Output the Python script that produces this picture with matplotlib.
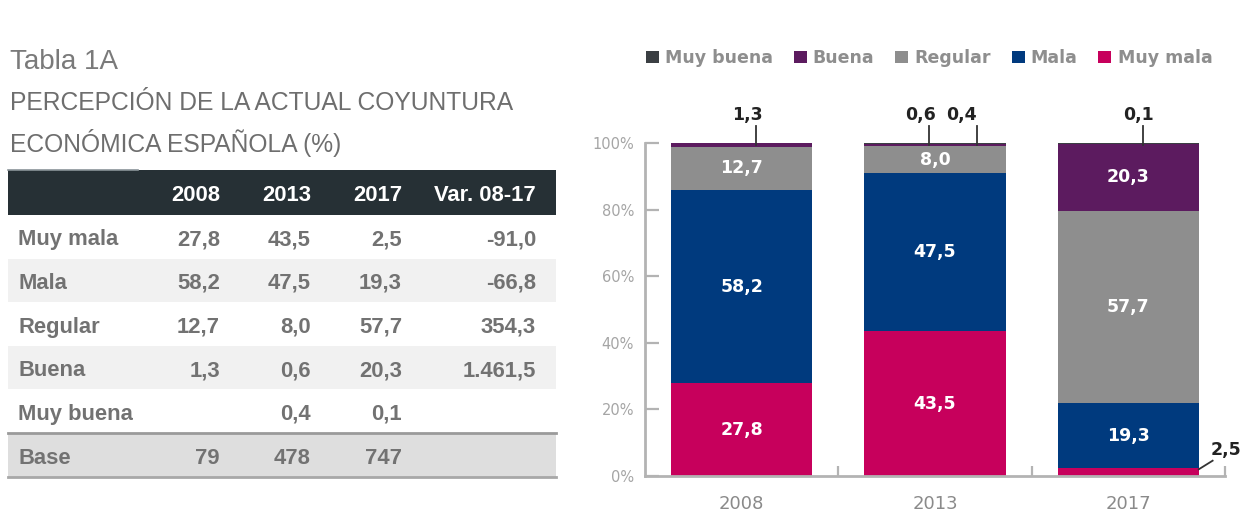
import matplotlib
matplotlib.use("Agg")
import matplotlib.pyplot as plt
from matplotlib.patches import Rectangle, Patch
from matplotlib import font_manager as fm
import numpy as np

# ---------------- data ----------------
categories = ["2008", "2013", "2017"]
series_names = ["Muy mala", "Mala", "Regular", "Buena", "Muy buena"]
muy_mala = [27.8, 43.5, 2.5]
mala = [58.2, 47.5, 19.3]
regular = [12.7, 8.0, 57.7]
buena = [1.3, 0.6, 20.3]
muy_buena = [0.0, 0.4, 0.1]

table_rows = ["Muy mala", "Mala", "Regular", "Buena", "Muy buena"]
table_2008 = [27.8, 58.2, 12.7, 1.3, None]
table_2013 = [43.5, 47.5, 8.0, 0.6, 0.4]
table_2017 = [2.5, 19.3, 57.7, 20.3, 0.1]
table_var = [-91.0, -66.8, 354.3, 1461.5, None]
base_counts = [79, 478, 747]
table_header = ["2008", "2013", "2017", "Var. 08-17"]

colors = {"Muy buena": "#3b3f43", "Buena": "#5c1b5f", "Regular": "#8e8e8e",
          "Mala": "#003a7e", "Muy mala": "#c7005c"}

# ---------------- fonts ----------------
avail = {f.name for f in fm.fontManager.ttflist}
sans = "Liberation Sans" if "Liberation Sans" in avail else "DejaVu Sans"
narrow = "Liberation Sans Narrow" if "Liberation Sans Narrow" in avail else sans
tsize = 19 if narrow != sans else 15.8


def fmt(v):
    if v is None:
        return ""
    s = f"{v:,.1f}"
    return s.replace(",", "X").replace(".", ",").replace("X", ".")


W, H = 1257, 525
fig = plt.figure(figsize=(W / 100, H / 100), dpi=100)

# ---------------- table (pixel coordinates) ----------------
at = fig.add_axes([0, 0, 1, 1])
at.set_xlim(0, W)
at.set_ylim(H, 0)
at.axis("off")

txt_gray = "#727272"
at.text(10, 62, "Tabla 1A", fontsize=20, color="#7a7a7a", family=sans,
        va="center", ha="left")
at.text(10, 103, "PERCEPCIÓN DE LA ACTUAL COYUNTURA", fontsize=17.7, color="#6e6e6e",
        family=sans, va="center", ha="left")
at.text(10, 143, "ECONÓMICA ESPAÑOLA (%)", fontsize=17.7, color="#6e6e6e",
        family=sans, va="center", ha="left")

x0, x1 = 8, 556
hdr_top, hdr_bot = 170, 215
btop, bbot = 433, 477
row_h = (btop - hdr_bot) / 5
at.add_patch(Rectangle((x0, hdr_top), x1 - x0, hdr_bot - hdr_top, color="#263035", lw=0))
at.plot([x0, 138], [hdr_top, hdr_top], color="#8a9499", lw=1.2)
col_right = [220, 311, 402, 536]
hdr_y = (hdr_top + hdr_bot) / 2
for xr, h in zip(col_right, table_header):
    at.text(xr, hdr_y + 3, h, color="white", fontsize=tsize, fontweight="bold",
            family=narrow, ha="right", va="center")

for i, lab in enumerate(table_rows):
    top = hdr_bot + i * row_h
    if i % 2 == 1:
        at.add_patch(Rectangle((x0, top), x1 - x0, row_h, color="#f1f1f1", lw=0))
    yc = top + row_h / 2 + 3
    at.text(18, yc, lab, color=txt_gray, fontsize=tsize, fontweight="bold",
            family=narrow, ha="left", va="center")
    vals = [table_2008[i], table_2013[i], table_2017[i], table_var[i]]
    for xr, v in zip(col_right, vals):
        at.text(xr, yc, fmt(v), color=txt_gray, fontsize=tsize, fontweight="bold",
                family=narrow, ha="right", va="center")

at.add_patch(Rectangle((x0, btop), x1 - x0, bbot - btop, color="#dedede", lw=0))
at.plot([x0, x1], [btop, btop], color="#9a9a9a", lw=2)
at.plot([x0, x1], [bbot, bbot], color="#a8a8a8", lw=2)
yc = (btop + bbot) / 2 + 3
at.text(18, yc, "Base", color=txt_gray, fontsize=tsize, fontweight="bold",
        family=narrow, ha="left", va="center")
for xr, v in zip(col_right, base_counts):
    at.text(xr, yc, str(v), color=txt_gray, fontsize=tsize, fontweight="bold",
            family=narrow, ha="right", va="center")

# ---------------- chart ----------------
ax = fig.add_axes([645 / W, (H - 476) / H, 580 / W, 333 / H])
x = np.arange(len(categories))
width = 0.73
stack = [("Muy mala", muy_mala), ("Mala", mala), ("Regular", regular),
         ("Buena", buena), ("Muy buena", muy_buena)]
bottom = np.zeros(len(categories))
for name, vals in stack:
    vals = np.array(vals, dtype=float)
    ax.bar(x, vals, width, bottom=bottom, color=colors[name], lw=0, zorder=2)
    for xi, b, v in zip(x, bottom, vals):
        if v > 5:
            ax.text(xi, b + v / 2, fmt(v), color="white", fontsize=12.5,
                    fontweight="bold", ha="center", va="center", zorder=3)
    bottom = bottom + vals

# callouts for small segments: (category index, series values, line dx, text dx)
callouts = [(0, buena, 0.075, 0.03), (1, buena, -0.03, -0.075),
            (1, muy_buena, 0.215, 0.135), (2, muy_buena, 0.075, 0.055)]
for ci, vals, ldx, tdx in callouts:
    ax.plot([ci + ldx, ci + ldx], [99.5, 105.2], color="#333333", lw=1.3,
            clip_on=False, zorder=4)
    ax.text(ci + tdx, 108.3, fmt(vals[ci]), color="#222222", fontsize=12.5,
            fontweight="bold", ha="center", va="center", clip_on=False)
# bottom callout for Muy mala 2017
ax.plot([2.364, 2.436], [2.0, 4.6], color="#333333", lw=1.3, clip_on=False, zorder=4)
ax.text(2.505, 7.9, fmt(muy_mala[2]), color="#222222", fontsize=12.5,
        fontweight="bold", ha="center", va="center", clip_on=False)

ax.set_xlim(-0.5, 2.5)
ax.set_ylim(0, 100)
for s in ["top", "right"]:
    ax.spines[s].set_visible(False)
for s in ["left", "bottom"]:
    ax.spines[s].set_color("#b3b3b3")
    ax.spines[s].set_linewidth(2)
ax.set_yticks(np.arange(0, 101, 20))
ax.set_yticklabels([f"{v}%" for v in range(0, 101, 20)])
ax.tick_params(axis="y", direction="in", length=10, width=1.6, color="#b3b3b3",
               labelcolor="#a5a5a5", labelsize=10.5, pad=8)
ax.set_xticks(x)
ax.set_xticklabels(categories)
ax.tick_params(axis="x", length=0, labelcolor="#8a8a8a", labelsize=13, pad=14)
ax.set_xticks([0.5, 1.5, 2.5], minor=True)
ax.tick_params(axis="x", which="minor", direction="in", length=7, width=1.6,
               color="#b3b3b3")
ax.patch.set_alpha(0)

handles = [Patch(facecolor=colors[n], edgecolor="none", label=n)
           for n in ["Muy buena", "Buena", "Regular", "Mala", "Muy mala"]]
leg = fig.legend(handles=handles, loc="center", ncol=5, frameon=False,
                 bbox_to_anchor=(929 / W, 1 - 58 / H), handlelength=0.75,
                 handleheight=0.75, handletextpad=0.35, columnspacing=1.2,
                 prop={"weight": "bold", "size": 12.5})
for t in leg.get_texts():
    t.set_color("#8e8e8e")

fig.savefig("out.png", dpi=100)
